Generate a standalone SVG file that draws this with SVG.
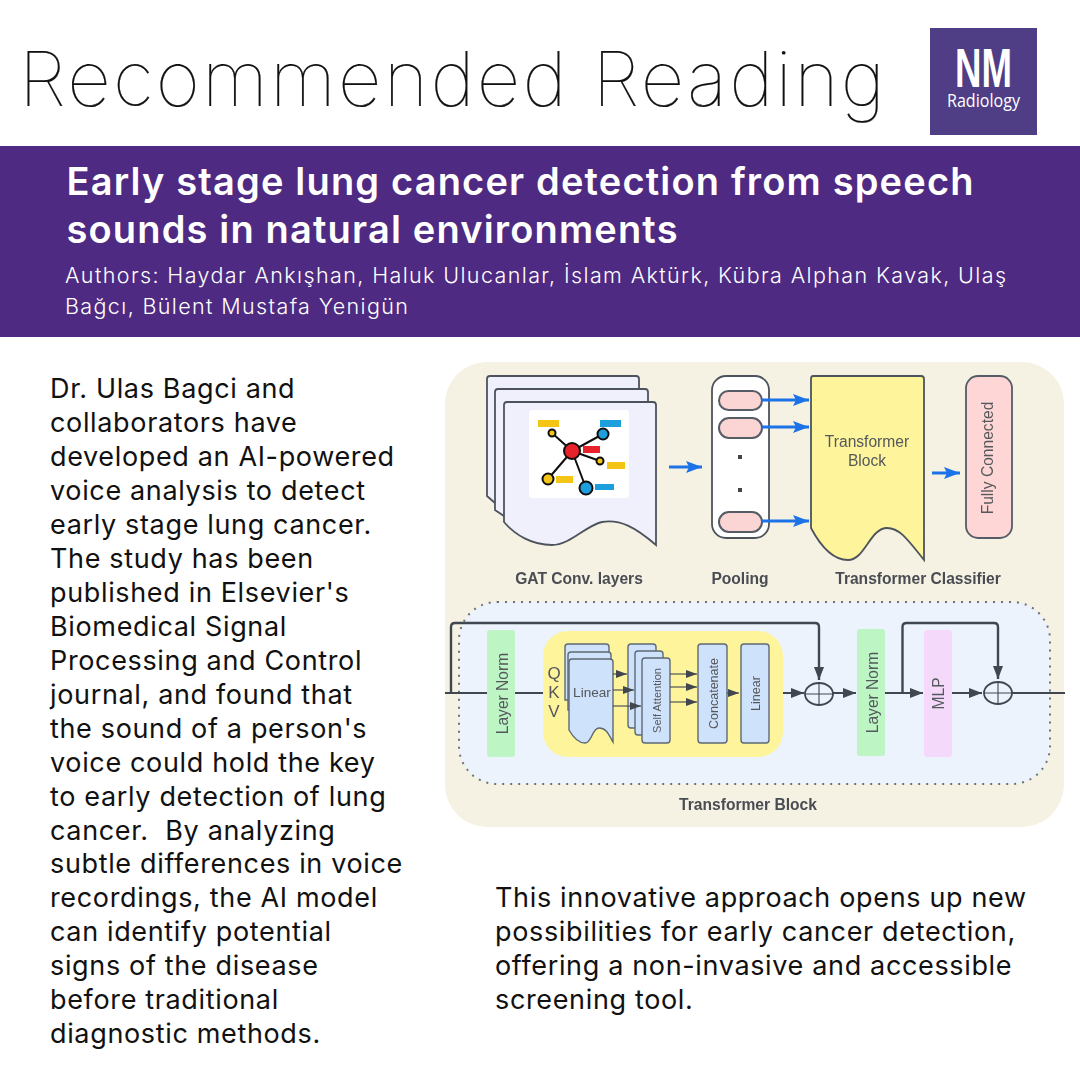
<svg xmlns="http://www.w3.org/2000/svg" width="1080" height="1080" viewBox="0 0 1080 1080">
<defs>
<style>
.ui{font-family:"Inter","Liberation Sans",sans-serif}
.ar{font-family:"Liberation Sans",Arial,sans-serif}
.title{font-size:76px;font-weight:100;fill:#111;stroke:#111;stroke-width:.2px}
.h{font-size:38px;font-weight:600;fill:#fff}
.au{font-size:21.5px;font-weight:300;fill:#fff}
.body{font-size:27px;font-weight:400;fill:#111;letter-spacing:.65px}
.cap{font-size:15.6px;font-weight:700;fill:#4a4d52;text-anchor:middle}
.lb{font-size:15.6px;fill:#55585c;text-anchor:middle}
.doc{fill:#eff0fc;stroke:#4d535c;stroke-width:1.8}
.pill{fill:#fbd5d3;stroke:#555c66;stroke-width:2}
.blue{fill:#cfe2fb;stroke:#5e6873;stroke-width:1.4}
.nk{stroke:#111;stroke-width:2}
.bl{stroke:#1a73e8;stroke-width:3;fill:none}
.dk{stroke:#3f4650;stroke-width:2;fill:none}
.dk2{stroke:#3f4650;stroke-width:2.4;fill:none}
.thin{stroke:#3f4650;stroke-width:1.1;fill:none}
</style>
<filter id="soft" x="0" y="0" width="100%" height="100%"><feGaussianBlur stdDeviation="0.4"/></filter>
<marker id="ab" markerUnits="userSpaceOnUse" markerWidth="18" markerHeight="14" refX="16" refY="7" orient="auto"><path d="M0 1 L16 7 L0 13 L3 7 Z" fill="#1a73e8"/></marker>
<marker id="ad" markerUnits="userSpaceOnUse" markerWidth="14" markerHeight="12" refX="13" refY="6" orient="auto"><path d="M0 1 L13 6 L0 11 Z" fill="#3f4650"/></marker>
<marker id="as" markerUnits="userSpaceOnUse" markerWidth="12" markerHeight="10" refX="11" refY="4" orient="auto"><path d="M0 0 L11 4 L0 8 Z" fill="#3f4650"/></marker>
</defs>
<rect width="1080" height="1080" fill="#fff"/>
<g id="header">
<text class="ui title" x="19" y="106" textLength="866">Recommended Reading</text>
<g id="logo">
<rect x="930" y="28" width="107" height="107" fill="#4f3d85"/>
<text class="ar" x="955" y="87" font-size="56" font-weight="700" fill="#fff" textLength="57" lengthAdjust="spacingAndGlyphs">NM</text>
<text x="947" y="107" font-family="'Open Sans',sans-serif" font-size="17.5" fill="#fff" textLength="73" lengthAdjust="spacingAndGlyphs">Radiology</text>
</g>
</g>
<g id="banner">
<rect x="0" y="146" width="1080" height="191" fill="#4f2a82"/>
<text class="ui h" x="66.500" y="195" textLength="907">Early stage lung cancer detection from speech</text>
<text class="ui h" x="66.500" y="243" textLength="611">sounds in natural environments</text>
<text class="ui au" x="65" y="283" textLength="941">Authors: Haydar Ankışhan, Haluk Ulucanlar, İslam Aktürk, Kübra Alphan Kavak, Ulaş</text>
<text class="ui au" x="65" y="314" textLength="343">Bağcı, Bülent Mustafa Yenigün</text>
</g>
<g id="body-left" class="ui body">
<text x="50" y="398">Dr. Ulas Bagci and</text>
<text x="50" y="432">collaborators have</text>
<text x="50" y="466">developed an AI-powered</text>
<text x="50" y="500">voice analysis to detect</text>
<text x="50" y="534">early stage lung cancer.</text>
<text x="50" y="568">The study has been</text>
<text x="50" y="602">published in Elsevier's</text>
<text x="50" y="636">Biomedical Signal</text>
<text x="50" y="670">Processing and Control</text>
<text x="50" y="704">journal, and found that</text>
<text x="50" y="738">the sound of a person's</text>
<text x="50" y="772">voice could hold the key</text>
<text x="50" y="806">to early detection of lung</text>
<text x="50" y="840" xml:space="preserve">cancer.  By analyzing</text>
<text x="50" y="873">subtle differences in voice</text>
<text x="50" y="907">recordings, the AI model</text>
<text x="50" y="941">can identify potential</text>
<text x="50" y="975">signs of the disease</text>
<text x="50" y="1009">before traditional</text>
<text x="50" y="1043">diagnostic methods.</text>
</g>
<g id="body-right" class="ui body">
<text x="495" y="907">This innovative approach opens up new</text>
<text x="495" y="941">possibilities for early cancer detection,</text>
<text x="495" y="975">offering a non-invasive and accessible</text>
<text x="495" y="1009">screening tool.</text>
</g>
<g id="figure" filter="url(#soft)">
<rect x="445" y="362" width="619" height="465" rx="42" fill="#f5f2e3"/>
<g id="gat-layers">
<path class="doc" d="M487 496V379q0-3 3-3H636q3 0 3 3V503H495Z"/>
<path class="doc" d="M495 510V392q0-3 3-3H645q3 0 3 3V516H504Z"/>
<path class="doc" d="M507 402H653q3 0 3 3V545C635 527 620 519 602 522C585 526 570 545 552 545C532 545 515 535 504 522V405q0-3 3-3Z"/>
<rect x="529" y="410" width="100" height="88" rx="3" fill="#fff"/>
<path class="nk" d="M572 451L552 433M572 451L603 434M572 451L600 461M572 451L548 479M572 451L586 488"/>
<rect x="538" y="420" width="21" height="7" fill="#f5c518"/><rect x="600" y="420" width="21" height="7" fill="#1aa0dd"/><rect x="583" y="446" width="17" height="7" fill="#e8202a"/><rect x="607" y="462" width="18" height="7" fill="#f5c518"/><rect x="556" y="476" width="17" height="7" fill="#f5c518"/><rect x="595" y="484" width="19" height="6" fill="#1aa0dd"/>
<circle cx="572" cy="451" r="8" fill="#e8202a" class="nk"/>
<circle cx="552" cy="433" r="3.500" fill="#f5c518" class="nk"/><circle cx="603" cy="434" r="5.500" fill="#1aa0dd" class="nk"/><circle cx="600" cy="461" r="3.500" fill="#f5c518" class="nk"/><circle cx="548" cy="479" r="5.500" fill="#f5c518" class="nk"/><circle cx="586" cy="488" r="6.500" fill="#1aa0dd" class="nk"/>
<text class="ar cap" x="579" y="584">GAT Conv. layers</text>
</g>
<g id="pooling">
<rect x="712" y="376" width="57" height="162" rx="14" fill="#fff" stroke="#4d535c" stroke-width="1.800"/>
<rect class="pill" x="719" y="391" width="43" height="19" rx="9.500"/>
<rect class="pill" x="719" y="418" width="43" height="20" rx="10"/>
<rect class="pill" x="719" y="512" width="43" height="20" rx="10"/>
<rect x="738" y="455" width="4" height="4" fill="#444"/><rect x="738" y="488" width="4" height="4" fill="#444"/>
<text class="ar cap" x="740" y="584">Pooling</text>
</g>
<g id="transformer-classifier">
<path d="M813 376H921q3 0 3 3V560C908 540 900 528 887 528C870 528 865 560 848 560C832 560 820 545 811 528V379q0-3 2-3Z" fill="#fef49c" stroke="#4d535c" stroke-width="1.800"/>
<text class="ar lb" x="867" y="447">Transformer</text>
<text class="ar lb" x="867" y="466">Block</text>
<text class="ar cap" x="918" y="584">Transformer Classifier</text>
</g>
<g id="fully-connected">
<rect x="966" y="376" width="46" height="162" rx="12" fill="#fdd6d5" stroke="#555c66" stroke-width="1.800"/>
<text class="ar lb" transform="translate(992.500 458) rotate(-90)">Fully Connected</text>
</g>
<g id="transformer-block">
<rect x="459" y="602" width="591" height="182" rx="38" fill="#ecf3fd" stroke="#6c727a" stroke-width="2" stroke-dasharray="2 6"/>
<text class="ar cap" x="748" y="810">Transformer Block</text>
</g>
<g id="layer-norm-1">
<rect x="487" y="630" width="28" height="127" rx="3" fill="#bdf5c4"/>
<text class="ar lb" transform="translate(508 693.500) rotate(-90)">Layer Norm</text>
</g>
<g id="attention">
<rect x="543" y="631" width="240" height="126" rx="25" fill="#fef49c"/>
<text class="ar lb" style="font-size:17px" x="554" y="679">Q</text><text class="ar lb" style="font-size:17px" x="554" y="698">K</text><text class="ar lb" style="font-size:17px" x="554" y="717">V</text>
</g>
<g id="linear-stack">
<path class="blue" d="M568 644H606q3 0 3 3V700H565V647q0-3 3-3Z"/>
<path class="blue" d="M571 652H608q3 0 3 3V710H568V655q0-3 3-3Z"/>
<path class="blue" d="M572 659H610q3 0 3 3V742C608 733 606 728 599 728C592 728 592 743 585 743C578 743 573 737 569 730V662q0-3 3-3Z"/>
<text class="ar lb" style="font-size:13.600px" x="592" y="697">Linear</text>
</g>
<g id="self-attention">
<rect class="blue" x="628" y="644" width="28" height="84" rx="3"/>
<rect class="blue" x="635" y="651" width="28" height="84" rx="3"/>
<rect class="blue" x="642" y="658" width="28" height="85" rx="3"/>
<text class="ar lb" style="font-size:11px" transform="translate(661 700.500) rotate(-90)">Self Attention</text>
</g>
<g id="concatenate">
<rect class="blue" x="698" y="644" width="29" height="99" rx="3"/>
<text class="ar lb" style="font-size:12.500px" transform="translate(717.500 693.500) rotate(-90)">Concatenate</text>
</g>
<g id="linear">
<rect class="blue" x="741" y="644" width="28" height="99" rx="3"/>
<text class="ar lb" style="font-size:12.500px" transform="translate(759.500 693.500) rotate(-90)">Linear</text>
</g>
<g id="add-1">
<ellipse cx="819" cy="694" rx="14" ry="11" fill="none" stroke="#3f4650" stroke-width="1.800"/>
<path class="thin" d="M805 694H833M819 683V705"/>
</g>
<g id="layer-norm-2">
<rect x="857" y="629" width="28" height="127" rx="3" fill="#bdf5c4"/>
<text class="ar lb" transform="translate(878 692.500) rotate(-90)">Layer Norm</text>
</g>
<g id="mlp">
<rect x="924" y="630" width="28" height="127" rx="3" fill="#f5d9fb"/>
<text class="ar lb" transform="translate(944 693.500) rotate(-90)">MLP</text>
</g>
<g id="add-2">
<ellipse cx="998" cy="693" rx="14" ry="11" fill="none" stroke="#3f4650" stroke-width="1.800"/>
<path class="thin" d="M984 693H1012M998 682V704"/>
</g>
<g id="connectors">
<path class="bl" marker-end="url(#ab)" d="M669 467H702"/>
<path class="bl" marker-end="url(#ab)" d="M762 400H809"/>
<path class="bl" marker-end="url(#ab)" d="M762 427H809"/>
<path class="bl" marker-end="url(#ab)" d="M762 521H809"/>
<path class="bl" marker-end="url(#ab)" d="M932 473H960"/>
<path class="dk" d="M445 693H487M515 693H543"/>
<path class="dk2" marker-end="url(#ad)" d="M451 693V627q0-4 4-4H815q4 0 4 4V680"/>
<path class="thin" marker-end="url(#as)" d="M613 674H627"/>
<path class="thin" marker-end="url(#as)" d="M613 690H634"/>
<path class="thin" marker-end="url(#as)" d="M613 706H641"/>
<path class="thin" marker-end="url(#as)" d="M670 674H697"/>
<path class="thin" marker-end="url(#as)" d="M670 687H697"/>
<path class="thin" marker-end="url(#as)" d="M670 702H697"/>
<path class="thin" marker-end="url(#as)" d="M727 693H739"/>
<path class="dk" marker-end="url(#ad)" d="M783 693H804"/>
<path class="dk" marker-end="url(#ad)" d="M833 693H856"/>
<path class="dk" marker-end="url(#ad)" d="M885 693H923"/>
<path class="dk" marker-end="url(#ad)" d="M952 693H982"/>
<path class="dk" d="M1012 693H1065"/>
<path class="dk2" marker-end="url(#ad)" d="M902.500 693V627q0-4 4-4H994q4 0 4 4V679"/>
</g>
</g>
</svg>
